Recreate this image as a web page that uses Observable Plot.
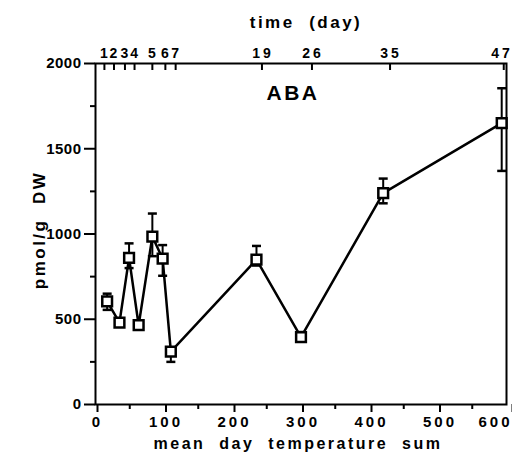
<!DOCTYPE html>
<html>
<head>
<meta charset="utf-8">
<script src="https://cdn.jsdelivr.net/npm/d3@7"></script>
<script src="https://cdn.jsdelivr.net/npm/@observablehq/plot@0.6"></script>
<style>
  html, body { margin: 0; padding: 0; background: #fff; }
  svg { font-family: "Liberation Sans", Arial, sans-serif; }
  svg g[aria-label="x-axis tick label"] text { letter-spacing: 3px; }
  svg g[aria-label="y-axis tick label"] text { letter-spacing: 0.5px; }
  svg g[aria-label="text"] text { letter-spacing: 2.5px; white-space: pre; }
</style>
</head>
<body>
<div id="chart"></div>
<script>
// Mean day temperature sum for each sampling
const tempSum = [17, 35, 49, 63, 83, 98, 110, 235, 300, 420, 593];
// ABA content, pmol/g DW
const aba = [605, 480, 860, 465, 985, 855, 310, 850, 395, 1240, 1650];
// Error bar ends
const errLow = [555, 460, 800, 440, 870, 755, 250, 815, 370, 1180, 1370];
const errHigh = [650, 500, 945, 490, 1120, 935, 335, 930, 425, 1325, 1855];

// Top axis: time (day)
const dayLabels = ["1", "2", "3", "4", "5", "6", "7", "19", "26", "35", "47"];
const dayTickPos = [13, 27, 43, 57, 83, 102, 117, 243, 316, 430, 596];

// Axis ticks
const xMajor = [0, 100, 200, 300, 400, 500];
const xLast = [600];
const xMinor = [50, 150, 250, 350, 450, 550];
const yMajor = [0, 500, 1000, 1500, 2000];
const yMinor = [250, 750, 1250, 1750];

const data = tempSum.map((t, i) => ({t, v: aba[i], lo: errLow[i], hi: errHigh[i]}));
const lastDay = dayTickPos.length - 1;

const capSymbol = {
  draw(context, size) {
    context.moveTo(-4.5, 0);
    context.lineTo(4.5, 0);
  }
};

const fmt = d3.format("d");

const chart = Plot.plot({
  width: 512,
  height: 461,
  marginTop: 63,
  marginBottom: 57,
  marginLeft: 95,
  marginRight: 6,
  style: {fontFamily: "'Liberation Sans', Arial, sans-serif", color: "#000", background: "#fff"},
  x: {domain: [0, 600]},
  y: {domain: [0, 2000]},
  marks: [
    Plot.frame({stroke: "#000", strokeWidth: 2}),
    // left axis
    Plot.axisY(yMajor, {anchor: "left", tickSize: 11, tickPadding: 3, strokeWidth: 2, fontSize: 15, fontWeight: "bold", tickFormat: fmt, label: null}),
    Plot.axisY(yMinor, {anchor: "left", tickSize: 5, strokeWidth: 2, text: null, label: null}),
    Plot.text(["pmol/g  DW"], {frameAnchor: "left", textAnchor: "middle", lineAnchor: "middle", rotate: -90, dx: -56, dy: -4, fontSize: 17, fontWeight: "bold"}),
    // bottom axis
    Plot.axisX(xMajor, {anchor: "bottom", tickSize: 8, tickPadding: 4, strokeWidth: 2, fontSize: 15, fontWeight: "bold", tickFormat: fmt, label: null, dx: 2}),
    Plot.axisX(xLast, {anchor: "bottom", tickSize: 8, tickPadding: 4, strokeWidth: 2, fontSize: 15, fontWeight: "bold", tickFormat: fmt, textAnchor: "end", dx: 6, label: null}),
    Plot.axisX(xMinor, {anchor: "bottom", tickSize: 5, strokeWidth: 2, text: null, label: null}),
    Plot.text(["mean  day  temperature  sum"], {frameAnchor: "bottom", lineAnchor: "middle", dy: 39, dx: -3, fontSize: 16, fontWeight: "bold"}),
    // top axis (days)
    Plot.axisX(dayTickPos, {anchor: "top", tickSize: -6, strokeWidth: 2, text: null, label: null}),
    Plot.axisX(dayTickPos.slice(0, lastDay), {anchor: "top", tickSize: 0, tickPadding: 6, fontSize: 14, fontWeight: "bold", tickFormat: (d, i) => dayLabels[i], label: null, dx: 1}),
    Plot.axisX(dayTickPos.slice(lastDay), {anchor: "top", tickSize: 0, tickPadding: 6, fontSize: 14, fontWeight: "bold", tickFormat: () => dayLabels[lastDay], textAnchor: "end", dx: 9, label: null}),
    Plot.text(["time  (day)"], {frameAnchor: "top", lineAnchor: "middle", dy: -41, dx: 5, fontSize: 17, fontWeight: "bold"}),
    // panel title
    Plot.text(["ABA"], {frameAnchor: "top", lineAnchor: "middle", dy: 30, dx: -8, fontSize: 21, fontWeight: "bold"}),
    // error bars
    Plot.ruleX(data, {x: "t", y1: "lo", y2: "hi", stroke: "#000", strokeWidth: 2}),
    Plot.dot(data, {x: "t", y: "hi", symbol: capSymbol, r: 4, stroke: "#000", strokeWidth: 2.5, fill: "none"}),
    Plot.dot(data, {x: "t", y: "lo", symbol: capSymbol, r: 4, stroke: "#000", strokeWidth: 2.5, fill: "none"}),
    // line
    Plot.line(data, {x: "t", y: "v", stroke: "#000", strokeWidth: 2.5}),
    // square markers
    Plot.dot(data, {x: "t", y: "v", symbol: "square", r: 5.5, stroke: "#000", strokeWidth: 2.5, fill: "#fff"})
  ]
});
document.getElementById("chart").appendChild(chart);
</script>
</body>
</html>
